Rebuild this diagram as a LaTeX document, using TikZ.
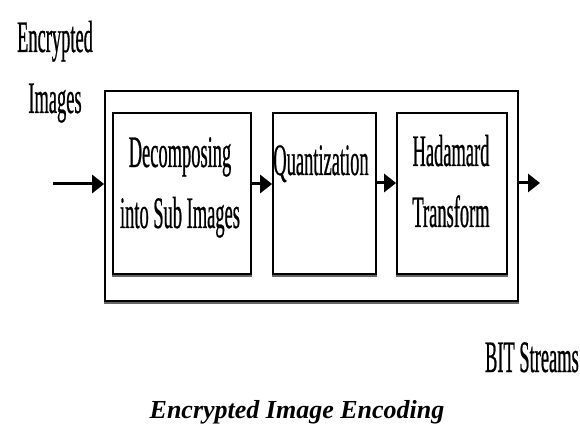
\documentclass[tikz,border=0pt]{standalone}
\usepackage{fontspec}
\setmainfont{Liberation Serif}
\newfontfamily\condfont[FakeStretch=0.41,FakeBold=0.5]{Liberation Serif}
\usetikzlibrary{arrows.meta}
\tikzset{
  blockbox/.style={draw=black, line width=1.8pt, inner sep=0pt, fill=white},
  lbl/.style={font=\condfont\fontsize{45}{61}\selectfont, inner sep=0pt, align=center, anchor=base},
  flowarrow/.style={line width=3pt, -{Triangle[length=12pt,width=18pt]}},
  shadowline/.style={draw=black!60, line width=2.2pt}
}
\begin{document}
\begin{tikzpicture}[x=1pt,y=-1pt]
\useasboundingbox[fill=white] (0,0) rectangle (580,427);
% outer frame
\node[blockbox, minimum width=413pt, minimum height=210pt] (outer) at (311.5,196) {};
% inner blocks
\node[blockbox, minimum width=138pt, minimum height=161pt] (b1) at (182,193.5) {};
\node[blockbox, minimum width=103pt, minimum height=161pt] (b2) at (324.5,193.5) {};
\node[blockbox, minimum width=110pt, minimum height=161pt] (b3) at (452,193.5) {};
% soft shadows under block bottoms
\draw[shadowline] ([yshift=-1.1pt]b1.south west) -- ([yshift=-1.1pt]b1.south east);
\draw[shadowline] ([yshift=-1.1pt]b2.south west) -- ([yshift=-1.1pt]b2.south east);
\draw[shadowline] ([yshift=-1.1pt]b3.south west) -- ([yshift=-1.1pt]b3.south east);
\draw[shadowline] ([yshift=-1.1pt]outer.south west) -- ([yshift=-1.1pt]outer.south east);
% texts (base anchor = baseline of last line)
\node[lbl] (tin) at (55,113) {Encrypted\\Images};
\node[lbl] (t1) at (180,228) {Decomposing\\into Sub Images};
\node[lbl] (t2) at (321,175) {Quantization};
\node[lbl] (t3) at (451,227) {Hadamard\\Transform};
\node[lbl, anchor=base east] (tout) at (579,372) {BIT Streams};
\node[font=\bfseries\itshape\fontsize{26}{30}\selectfont, inner sep=0pt, anchor=base] (cap) at (297,418) {Encrypted Image Encoding};
% arrows
\coordinate (in) at (53,184);
\coordinate (out) at (540,183);
\draw[flowarrow] (in) -- (in -| outer.west);
\draw[flowarrow] (b1.east |- in) -- (b2.west |- in);
\draw[flowarrow] (b2.east |- out) -- (b3.west |- out);
\draw[flowarrow] (outer.east |- out) -- (out);
\end{tikzpicture}
\end{document}
